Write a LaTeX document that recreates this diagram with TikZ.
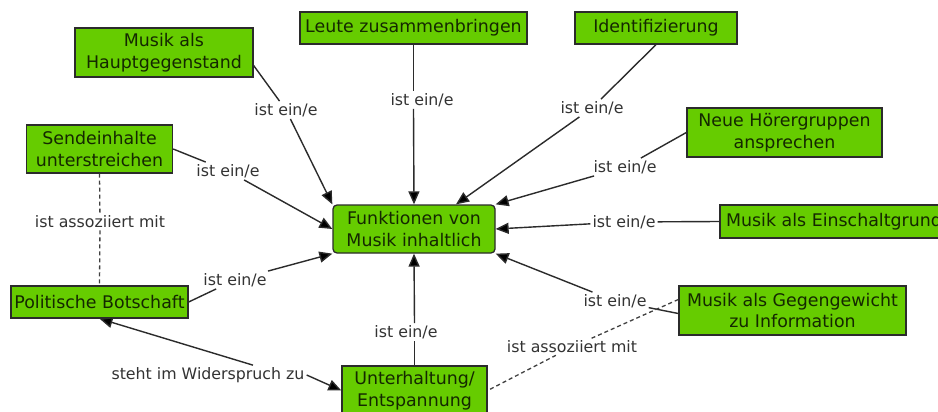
\documentclass[tikz,border=0pt]{standalone}
\usepackage{fontspec}
\setmainfont{DejaVu Sans}
\usetikzlibrary{arrows.meta}
\definecolor{conceptgreen}{HTML}{66CC00}
\definecolor{edgegray}{HTML}{2B2B2B}
\definecolor{labelgray}{HTML}{333333}
\definecolor{conceptink}{HTML}{142800}
\tikzset{
  concept/.style={draw=edgegray, line width=1.3pt, fill=conceptgreen, text=conceptink,
    inner sep=0pt, align=center, font=\fontsize{17.4}{21.5}\selectfont},
  mainconcept/.style={concept, rounded corners=4pt},
  linkword/.style={text=labelgray, inner sep=2pt, font=\fontsize{15.8}{19}\selectfont},
  link/.style={draw=edgegray, line width=1.4pt},
  linkarrow/.style={link, -{Triangle[length=13pt,width=11pt,fill=black]}},
  assoc/.style={draw=edgegray!90, line width=1.3pt, dash pattern=on 4pt off 3pt},
}
\begin{document}
\begin{tikzpicture}[x=1pt,y=-1pt]
\clip (0,0) rectangle (938,412);
\fill[white] (0,0) rectangle (938,412);

% concepts
\node[mainconcept, minimum width=162pt, minimum height=48pt] (funk) at (414,229) {Funktionen von\\Musik inhaltlich};
\node[concept, minimum width=178pt, minimum height=49pt] (haupt) at (164,52.5) {Musik als\\Hauptgegenstand};
\node[concept, minimum width=227pt, minimum height=32pt] (leute) at (413.5,28) {Leute zusammenbringen};
\node[concept, minimum width=162pt, minimum height=32pt] (ident) at (656,28) {Identifizierung};
\node[concept, minimum width=195pt, minimum height=49pt] (neue) at (784.5,132.5) {Neue Hörergruppen\\ansprechen};
\node[concept, minimum width=228pt, minimum height=33pt] (einsch) at (834,221.5) {Musik als Einschaltgrund};
\node[concept, minimum width=146pt, minimum height=48pt] (sende) at (99.5,149) {Sendeinhalte\\unterstreichen};
\node[concept, minimum width=177pt, minimum height=32pt] (polit) at (99.5,302) {Politische Botschaft};
\node[concept, minimum width=227pt, minimum height=49pt] (gegen) at (792.5,310.5) {Musik als Gegengewicht\\zu Information};
\node[concept, minimum width=145pt, minimum height=49pt] (unter) at (414.5,390.5) {Unterhaltung/\\Entspannung};

% linking phrases
\node[linkword] (lhaupt) at (286,110) {ist ein/e};
\node[linkword] (lleute) at (422,100) {ist ein/e};
\node[linkword] (lident) at (592,108) {ist ein/e};
\node[linkword] (lneue) at (625,167) {ist ein/e};
\node[linkword] (leinsch) at (624,222) {ist ein/e};
\node[linkword] (lsende) at (228,171) {ist ein/e};
\node[linkword] (lpolit) at (235,280) {ist ein/e};
\node[linkword] (lgegen) at (615,301) {ist ein/e};
\node[linkword] (lunter) at (406,332) {ist ein/e};
\node[linkword] (lassoc1) at (100,222) {ist assoziiert mit};
\node[linkword] (lassoc2) at (572,347) {ist assoziiert mit};
\node[linkword] (lwider) at (208,375) {steht im Widerspruch zu};

% "ist ein/e" connectors
\draw[link] ([yshift=-13pt]haupt.east) -- (lhaupt);
\draw[linkarrow] (lhaupt) -- (funk.north west);
\draw[link] (leute.south) -- (leute.south |- lleute.north);
\draw[linkarrow] (leute.south |- lleute.south) -- (funk.north);
\draw[link] (ident.south) -- (lident);
\draw[linkarrow] (lident) -- ([xshift=42pt]funk.north);
\draw[link] (neue.west) -- (lneue);
\draw[linkarrow] (lneue) -- (funk.north east);
\draw[link] (einsch.west) -- (leinsch);
\draw[linkarrow] (leinsch) -- (funk.east);
\draw[link] (sende.east) -- (lsende);
\draw[linkarrow] (lsende) -- (funk.west);
\draw[link] (polit.east) -- (lpolit);
\draw[linkarrow] (lpolit) -- (funk.south west);
\draw[link] ([yshift=-3pt]gegen.west) -- (lgegen);
\draw[linkarrow] (lgegen) -- (funk.south east);
\draw[link] (unter.north) -- (unter.north |- lunter.south);
\draw[linkarrow] (unter.north |- lunter.north) -- (funk.south);

% associations
\draw[assoc] (sende.south) -- (lassoc1);
\draw[assoc] (lassoc1) -- (polit.north);
\draw[assoc] ([yshift=11pt]gegen.west) -- (lassoc2);
\draw[assoc] (lassoc2) -- (unter.east);

% contradiction
\draw[linkarrow] ([xshift=45pt]lwider.north) -- (polit.south);
\draw[linkarrow] (lwider.east) -- (unter.west);
\end{tikzpicture}
\end{document}
